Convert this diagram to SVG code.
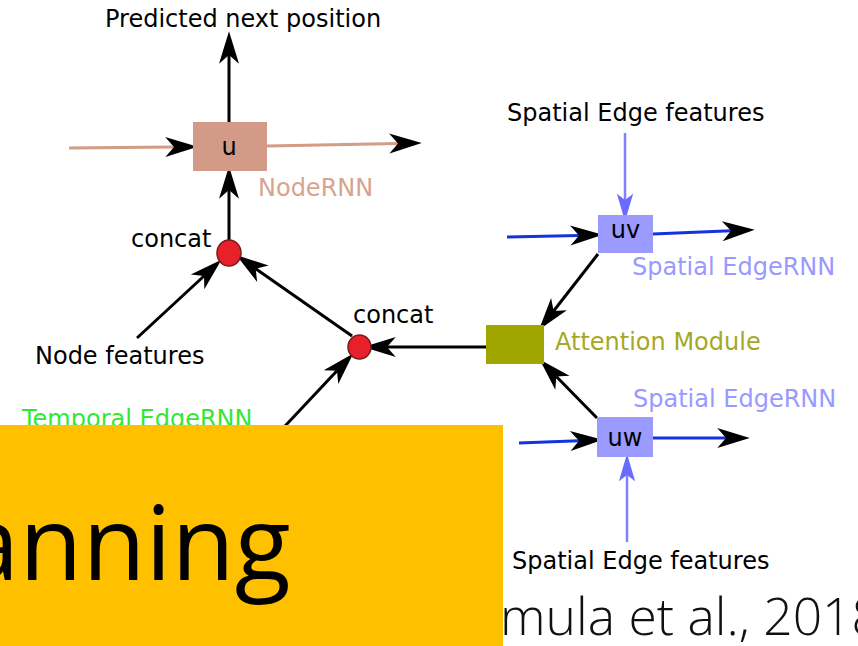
<svg xmlns="http://www.w3.org/2000/svg" width="858" height="646" viewBox="0 0 858 646">
  <defs>
    <style>
      .t { font-family: "DejaVu Sans", sans-serif; font-size: 24px; fill: #000; }
      .blk { stroke: #000; stroke-width: 3; fill: none; }
      .sal { stroke: #D39C86; stroke-width: 3; fill: none; }
      .blu { stroke: #1233DD; stroke-width: 3; fill: none; }
      .vio { stroke: #8080FF; stroke-width: 2.5; fill: none; }
      .cc { fill: #E8202A; stroke: #7A1A1A; stroke-width: 1.5; }
    </style>
    <marker id="ah" markerUnits="userSpaceOnUse" orient="auto" refX="0" refY="0" markerWidth="40" markerHeight="40" viewBox="-10 -12 32 24" overflow="visible">
      <path d="M19,0 L-7,-8 L0,0 L-7,8 Z" fill="#000"/>
    </marker>
    <marker id="av" markerUnits="userSpaceOnUse" orient="auto" refX="0" refY="0" markerWidth="40" markerHeight="40" viewBox="-10 -12 32 24" overflow="visible">
      <path d="M17,0 L-5,-6.5 L0,0 L-5,6.5 Z" fill="#6A6AFF"/>
    </marker>
  </defs>
  <rect x="0" y="0" width="858" height="646" fill="#fff"/>

  <g id="connectors">
    <line class="blk" x1="229" y1="122" x2="229" y2="55" marker-end="url(#ah)"/>
    <line class="sal" x1="69" y1="148" x2="174" y2="147" marker-end="url(#ah)"/>
    <line class="sal" x1="267" y1="146" x2="398" y2="143.4" marker-end="url(#ah)"/>
    <line class="blk" x1="229" y1="241" x2="229" y2="190" marker-end="url(#ah)"/>
    <line class="blk" x1="137" y1="338" x2="204" y2="276" marker-end="url(#ah)"/>
    <line class="blk" x1="352" y1="336" x2="255.7" y2="268.7" marker-end="url(#ah)"/>
    <line class="blk" x1="486" y1="347" x2="387" y2="347" marker-end="url(#ah)"/>
    <line class="blk" x1="270" y1="442" x2="337" y2="370.8" marker-end="url(#ah)"/>
    <line class="blk" x1="598" y1="254" x2="553.6" y2="311" marker-end="url(#ah)"/>
    <line class="blk" x1="597" y1="418" x2="556.3" y2="376.5" marker-end="url(#ah)"/>
    <line class="blu" x1="507" y1="237" x2="579" y2="235.4" marker-end="url(#ah)"/>
    <line class="blu" x1="653" y1="234" x2="731" y2="230.8" marker-end="url(#ah)"/>
    <line class="blu" x1="519" y1="443" x2="579" y2="440.7" marker-end="url(#ah)"/>
    <line class="blu" x1="653" y1="438" x2="726" y2="438" marker-end="url(#ah)"/>
    <line class="vio" x1="625" y1="133" x2="625" y2="200" marker-end="url(#av)"/>
    <line class="vio" x1="627" y1="542" x2="627" y2="475" marker-end="url(#av)"/>
  </g>

  <g id="label-predicted"><text class="t" x="105" y="27">Predicted next position</text></g>

  <g id="node-u">
    <rect x="193" y="122" width="74" height="49" fill="#D39B87"/>
    <text class="t" x="229" y="155" text-anchor="middle">u</text>
    <text class="t" x="258" y="196" style="fill:#D6A48F">NodeRNN</text>
  </g>

  <g id="node-concat1">
    <ellipse class="cc" cx="229" cy="253" rx="12" ry="13"/>
    <text class="t" x="131" y="247">concat</text>
  </g>

  <g id="node-concat2">
    <ellipse class="cc" cx="359.5" cy="347" rx="11.5" ry="12"/>
    <text class="t" x="353" y="323">concat</text>
  </g>

  <g id="label-node-features"><text class="t" x="35" y="364">Node features</text></g>

  <g id="node-attention">
    <rect x="486" y="325" width="58" height="39" fill="#A0A600"/>
    <text class="t" x="555" y="350" style="fill:#A6A825">Attention Module</text>
  </g>

  <g id="node-uv">
    <rect x="598" y="215" width="55" height="38" fill="#9A9AFF"/>
    <text class="t" x="625.5" y="238" text-anchor="middle">uv</text>
    <text class="t" x="632" y="275" style="fill:#9999FF">Spatial EdgeRNN</text>
  </g>

  <g id="node-uw">
    <rect x="597" y="417" width="56" height="40" fill="#9A9AFF"/>
    <text class="t" x="625" y="446" text-anchor="middle">uw</text>
    <text class="t" x="633" y="407" style="fill:#9999FF">Spatial EdgeRNN</text>
  </g>

  <g id="label-spatial-top"><text class="t" x="507" y="121">Spatial Edge features</text></g>
  <g id="label-spatial-bottom"><text class="t" x="512" y="569">Spatial Edge features</text></g>

  <g id="label-temporal"><text class="t" x="22" y="427" style="fill:#33E833">Temporal EdgeRNN</text></g>

  <g id="citation">
    <text x="500" y="635" textLength="381" lengthAdjust="spacingAndGlyphs" style="font-family:'Open Sans',sans-serif;font-size:52px;font-weight:300;fill:#111">mula et al., 2018</text>
  </g>

  <g id="banner">
    <rect x="0" y="425" width="503" height="221" fill="#FFC000"/>
    <text x="-38" y="580" style="font-family:'Open Sans',sans-serif;font-size:103px;fill:#000">anning</text>
  </g>
</svg>
